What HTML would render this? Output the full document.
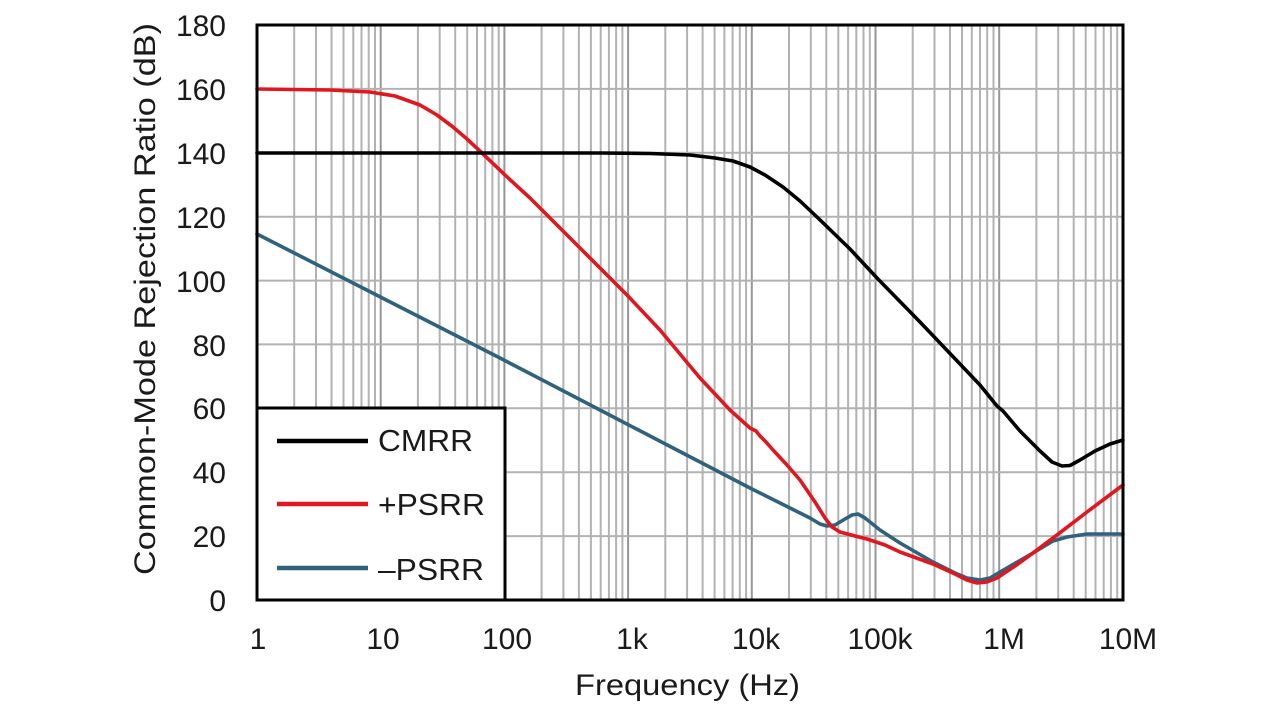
<!DOCTYPE html>
<html>
<head>
<meta charset="utf-8">
<style>
  html, body { margin:0; padding:0; background:#ffffff; }
  svg { display:block; }
  text { font-family: "Liberation Sans", Arial, sans-serif; fill:#1a1a1a; }
</style>
</head>
<body>
<svg width="1280" height="720" viewBox="0 0 1280 720" xmlns="http://www.w3.org/2000/svg">
  <rect x="0" y="0" width="1280" height="720" fill="#ffffff"/>
  <!-- vertical grid lines -->
  <g stroke="#b2b2b2" stroke-width="2">
    <line x1="294.2" y1="25" x2="294.2" y2="600"/><line x1="316.0" y1="25" x2="316.0" y2="600"/><line x1="331.5" y1="25" x2="331.5" y2="600"/><line x1="343.5" y1="25" x2="343.5" y2="600"/><line x1="353.3" y1="25" x2="353.3" y2="600"/><line x1="361.5" y1="25" x2="361.5" y2="600"/><line x1="368.7" y1="25" x2="368.7" y2="600"/><line x1="375.0" y1="25" x2="375.0" y2="600"/>
    <line x1="417.9" y1="25" x2="417.9" y2="600"/><line x1="439.7" y1="25" x2="439.7" y2="600"/><line x1="455.2" y1="25" x2="455.2" y2="600"/><line x1="467.2" y1="25" x2="467.2" y2="600"/><line x1="477.0" y1="25" x2="477.0" y2="600"/><line x1="485.2" y1="25" x2="485.2" y2="600"/><line x1="492.4" y1="25" x2="492.4" y2="600"/><line x1="498.7" y1="25" x2="498.7" y2="600"/>
    <line x1="541.6" y1="25" x2="541.6" y2="600"/><line x1="563.4" y1="25" x2="563.4" y2="600"/><line x1="578.9" y1="25" x2="578.9" y2="600"/><line x1="590.9" y1="25" x2="590.9" y2="600"/><line x1="600.7" y1="25" x2="600.7" y2="600"/><line x1="608.9" y1="25" x2="608.9" y2="600"/><line x1="616.1" y1="25" x2="616.1" y2="600"/><line x1="622.4" y1="25" x2="622.4" y2="600"/>
    <line x1="665.3" y1="25" x2="665.3" y2="600"/><line x1="687.1" y1="25" x2="687.1" y2="600"/><line x1="702.6" y1="25" x2="702.6" y2="600"/><line x1="714.6" y1="25" x2="714.6" y2="600"/><line x1="724.4" y1="25" x2="724.4" y2="600"/><line x1="732.6" y1="25" x2="732.6" y2="600"/><line x1="739.8" y1="25" x2="739.8" y2="600"/><line x1="746.1" y1="25" x2="746.1" y2="600"/>
    <line x1="789.0" y1="25" x2="789.0" y2="600"/><line x1="810.8" y1="25" x2="810.8" y2="600"/><line x1="826.3" y1="25" x2="826.3" y2="600"/><line x1="838.3" y1="25" x2="838.3" y2="600"/><line x1="848.1" y1="25" x2="848.1" y2="600"/><line x1="856.3" y1="25" x2="856.3" y2="600"/><line x1="863.5" y1="25" x2="863.5" y2="600"/><line x1="869.8" y1="25" x2="869.8" y2="600"/>
    <line x1="912.7" y1="25" x2="912.7" y2="600"/><line x1="934.5" y1="25" x2="934.5" y2="600"/><line x1="950.0" y1="25" x2="950.0" y2="600"/><line x1="962.0" y1="25" x2="962.0" y2="600"/><line x1="971.8" y1="25" x2="971.8" y2="600"/><line x1="980.0" y1="25" x2="980.0" y2="600"/><line x1="987.2" y1="25" x2="987.2" y2="600"/><line x1="993.5" y1="25" x2="993.5" y2="600"/>
    <line x1="1036.4" y1="25" x2="1036.4" y2="600"/><line x1="1058.2" y1="25" x2="1058.2" y2="600"/><line x1="1073.7" y1="25" x2="1073.7" y2="600"/><line x1="1085.7" y1="25" x2="1085.7" y2="600"/><line x1="1095.5" y1="25" x2="1095.5" y2="600"/><line x1="1103.7" y1="25" x2="1103.7" y2="600"/><line x1="1110.9" y1="25" x2="1110.9" y2="600"/><line x1="1117.2" y1="25" x2="1117.2" y2="600"/>
  </g>
  <!-- decade lines -->
  <g stroke="#969696" stroke-width="2">
    <line x1="380.7" y1="25" x2="380.7" y2="600"/>
    <line x1="504.4" y1="25" x2="504.4" y2="600"/>
    <line x1="628.1" y1="25" x2="628.1" y2="600"/>
    <line x1="751.8" y1="25" x2="751.8" y2="600"/>
    <line x1="875.5" y1="25" x2="875.5" y2="600"/>
    <line x1="999.2" y1="25" x2="999.2" y2="600"/>
  </g>
  <!-- horizontal grid lines -->
  <g stroke="#b2b2b2" stroke-width="2">
    <line x1="257" y1="536.1" x2="1123" y2="536.1"/>
    <line x1="257" y1="472.2" x2="1123" y2="472.2"/>
    <line x1="257" y1="408.3" x2="1123" y2="408.3"/>
    <line x1="257" y1="344.4" x2="1123" y2="344.4"/>
    <line x1="257" y1="280.6" x2="1123" y2="280.6"/>
    <line x1="257" y1="216.7" x2="1123" y2="216.7"/>
    <line x1="257" y1="152.8" x2="1123" y2="152.8"/>
    <line x1="257" y1="88.9" x2="1123" y2="88.9"/>
  </g>

  <!-- series -->
  <g fill="none" stroke-width="3.6" stroke-linejoin="round" stroke-linecap="round">
    <polyline stroke="#30627e" points="257,234 400,307 500,358 600,410 700,462 750,488 790,508 810,518 820,524 827,526 835,525 845,519 852,515 858,514 865,518 880,530 900,543 933,562 955,573 967,578 980,580 990,578 1000,572 1033,553 1053,541 1067,537 1087,534 1123,534"/>
    <polyline stroke="#e2161e" points="257,89 330,90 370,92 395,96 420,105 437,115 453,127 467,139 482,153 505,175 530,198 580,248 627,295 660,330 700,378 730,410 750,428 756,431 760,436 766,442 773,450 787,465 800,480 815,502 825,518 832,527 840,532 855,536 867,539 885,545 900,552 933,564 955,574 967,580 977,583 987,582 997,578 1015,566 1033,553 1057,535 1087,512 1123,485"/>
    <polyline stroke="#000000" points="257,153 600,153 650,153.5 690,155 715,158 733,161 750,167 765,175 783,187 800,201 817,217 850,249 877,278 920,322 960,364 980,385 997,406 1003,411 1020,431 1040,451 1052,462 1062,466 1070,465.5 1080,460 1095,451 1110,444 1123,440"/>
  </g>

  <!-- plot frame -->
  <rect x="257" y="25" width="866" height="575" fill="none" stroke="#000000" stroke-width="3"/>

  <!-- legend -->
  <rect x="257" y="408" width="248" height="192" fill="#ffffff" stroke="#000000" stroke-width="3"/>
  <line x1="277" y1="441" x2="368" y2="441" stroke="#000000" stroke-width="4.5"/>
  <line x1="277" y1="504" x2="368" y2="504" stroke="#e2161e" stroke-width="4.5"/>
  <line x1="277" y1="568" x2="368" y2="568" stroke="#30627e" stroke-width="4.5"/>
  <text x="378" y="451" font-size="31" textLength="95" lengthAdjust="spacingAndGlyphs">CMRR</text>
  <text x="378" y="515" font-size="31" textLength="107" lengthAdjust="spacingAndGlyphs">+PSRR</text>
  <text x="378" y="580" font-size="31" textLength="106" lengthAdjust="spacingAndGlyphs">–PSRR</text>

  <!-- y tick labels -->
  <g font-size="30" text-anchor="end">
    <text x="226" y="611">0</text>
    <text x="226" y="547">20</text>
    <text x="226" y="483">40</text>
    <text x="226" y="419">60</text>
    <text x="226" y="356">80</text>
    <text x="226" y="292">100</text>
    <text x="226" y="228">120</text>
    <text x="226" y="164">140</text>
    <text x="226" y="100">160</text>
    <text x="226" y="36">180</text>
  </g>

  <!-- x tick labels -->
  <g font-size="30" text-anchor="middle">
    <text x="258" y="649">1</text>
    <text x="383" y="649">10</text>
    <text x="507" y="649">100</text>
    <text x="632" y="649">1k</text>
    <text x="756" y="649">10k</text>
    <text x="880" y="649">100k</text>
    <text x="1004" y="649">1M</text>
    <text x="1128" y="649">10M</text>
  </g>

  <!-- axis titles -->
  <text x="575" y="695" font-size="30" textLength="225" lengthAdjust="spacingAndGlyphs">Frequency (Hz)</text>
  <text transform="translate(155,575) rotate(-90)" x="0" y="0" font-size="30" textLength="552" lengthAdjust="spacingAndGlyphs">Common-Mode Rejection Ratio (dB)</text>
</svg>
</body>
</html>
